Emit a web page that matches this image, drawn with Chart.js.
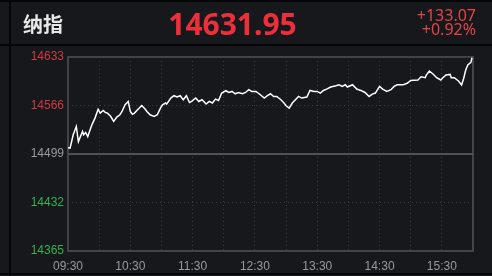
<!DOCTYPE html>
<html>
<head>
<meta charset="utf-8">
<script src="https://cdn.jsdelivr.net/npm/chart.js@4"></script>
<style>
  html, body { margin: 0; padding: 0; background: #16181c; }
  #wrap { position: relative; width: 492px; height: 276px; overflow: hidden; background: #16181c; }
  #chart { position: absolute; left: 0; top: 0; }
  .line { position: absolute; background: #050607; }
  .txt { position: absolute; white-space: nowrap; }
  #name { left: 23px; top: 12px; font: bold 20px "Noto Sans CJK SC", sans-serif; line-height: 24px; color: #e8e8e8; }
  #last { left: 160px; width: 145px; text-align: center; top: 8px; font: bold 30px "Noto Sans", sans-serif; line-height: 32px; color: #ee2f3b; }
  #chg { right: 16px; top: 8px; text-align: right; font: 16px "Noto Sans", sans-serif; line-height: 14px; color: #e2444a; }
</style>
</head>
<body>
<div id="wrap">
  <canvas id="chart" width="492" height="276"></canvas>
  <div class="line" style="left:0;top:0;width:492px;height:2px"></div>
  <div class="line" style="left:9px;top:0;width:2px;height:276px"></div>
  <div class="line" style="left:0;top:44px;width:492px;height:2px"></div>
  <div class="line" style="left:0;top:273px;width:492px;height:2px"></div>
  <div class="txt" id="name">纳指</div>
  <div class="txt" id="last">14631.95</div>
  <div class="txt" id="chg">+133.07<br>+0.92%</div>
</div>
<script>
// --- Data ---
const timeLabels = ['09:30', '10:30', '11:30', '12:30', '13:30', '14:30', '15:30']
const yTicks = [14365, 14432, 14499, 14566, 14633]
const prevClose = 14498.88

// minutes after 09:30
const minutes = [
  0, 2, 5, 8, 10, 14, 15, 17, 19, 23, 26, 29, 31, 34, 36, 38, 41, 44, 47, 50,
  52, 55, 58, 60, 62, 64, 67, 71, 74, 76, 79, 83, 86, 89, 91, 94, 95, 99, 102, 105,
  108, 111, 114, 117, 119, 123, 126, 129, 131, 133, 136, 139, 142, 145, 148, 152, 155, 158, 161, 164,
  168, 171, 174, 177, 181, 184, 189, 192, 195, 198, 201, 205, 208, 210, 213, 216, 219, 222, 225, 230,
  233, 237, 240, 243, 246, 249, 253, 255, 258, 261, 264, 267, 269, 274, 278, 282, 286, 290, 293, 296,
  300, 303, 307, 311, 314, 317, 320, 323, 327, 330, 333, 337, 340, 344, 345, 348, 352, 355, 359, 361,
  364, 368, 369, 372, 376, 379, 381, 383, 385, 388, 389
]
const prices = [
  14507.5, 14507.1, 14525.5, 14537.0, 14516.2, 14530.1, 14525.5, 14528.7, 14523.1, 14539.3,
  14548.6, 14560.8, 14555.5, 14559.1, 14556.3, 14555.5, 14551.1, 14543.9, 14550.0, 14553.2,
  14557.7, 14567.0, 14571.6, 14557.7, 14553.9, 14555.5, 14560.1, 14566.0, 14561.5, 14557.7,
  14553.2, 14550.8, 14553.2, 14562.4, 14567.0, 14569.4, 14568.0, 14576.3, 14579.5, 14577.7,
  14579.5, 14573.9, 14579.5, 14570.2, 14571.6, 14576.3, 14571.6, 14573.9, 14571.2, 14568.0,
  14571.6, 14569.4, 14574.9, 14573.0, 14583.2, 14586.4, 14584.0, 14585.4, 14582.2, 14584.0,
  14582.2, 14584.0, 14587.8, 14585.4, 14585.4, 14582.2, 14576.3, 14579.5, 14582.2, 14578.5,
  14578.5, 14573.9, 14569.4, 14565.6, 14562.4, 14569.4, 14573.9, 14578.5, 14576.3, 14577.7,
  14586.8, 14585.4, 14585.4, 14583.2, 14586.8, 14588.7, 14591.5, 14592.3, 14593.3, 14594.7,
  14592.3, 14594.7, 14591.5, 14594.7, 14588.7, 14586.8, 14584.0, 14578.5, 14581.8, 14583.2,
  14592.3, 14588.7, 14585.4, 14587.8, 14592.3, 14594.7, 14594.7, 14594.7, 14597.0, 14600.6,
  14600.9, 14601.2, 14605.7, 14604.4, 14608.1, 14613.6, 14608.9, 14604.4, 14601.2, 14604.4,
  14608.1, 14608.9, 14604.4, 14604.4, 14599.8, 14594.3, 14603.4, 14615.0, 14621.9, 14625.5,
  14631.95
]

// --- Colours ---
const upColor = '#cf3a40'
const downColor = '#35b150'
const flatColor = '#9a9a9a'
const gridColor = '#3a3d43'

// frame round the plot area
const framePlugin = {
  id: 'frame',
  beforeDatasetsDraw(chart) {
    const { ctx, chartArea: a } = chart
    ctx.save()
    ctx.strokeStyle = '#404348'
    ctx.lineWidth = 2
    ctx.strokeRect(a.left, a.top, a.right - a.left, a.bottom - a.top)
    ctx.restore()
  },
}

Chart.defaults.font.family = '"Liberation Sans", Arial, sans-serif'
Chart.defaults.font.size = 12

new Chart(document.getElementById('chart'), {
  type: 'line',
  data: {
    datasets: [
      {
        data: minutes.map((m, i) => ({ x: m, y: prices[i] })),
        borderColor: '#ffffff',
        borderWidth: 1.5,
        pointRadius: 0,
        tension: 0,
        order: 0,
      },
      {
        data: [{ x: 0, y: prevClose }, { x: 390, y: prevClose }],
        borderColor: '#4f5257',
        borderWidth: 2,
        pointRadius: 0,
        order: 1,
      },
    ],
  },
  options: {
    responsive: false,
    animation: false,
    devicePixelRatio: 1,
    layout: { padding: { left: 10, right: 19, top: 57, bottom: 0 } },
    plugins: { legend: { display: false }, tooltip: { enabled: false } },
    scales: {
      x: {
        type: 'linear',
        min: 0,
        max: 390,
        afterFit: (scale) => { scale.height = 25 },
        ticks: {
          stepSize: 30,
          autoSkip: false,
          maxRotation: 0,
          padding: 8,
          color: flatColor,
          callback: (v) => (v % 60 === 0 ? timeLabels[v / 60] : ''),
        },
        grid: {
          drawTicks: false,
          color: (c) => (c.tick && (c.tick.value === 0 || c.tick.value === 390) ? 'transparent' : gridColor),
        },
        border: { display: false, dash: [1, 3] },
      },
      y: {
        min: 14365,
        max: 14633,
        afterBuildTicks: (scale) => { scale.ticks = yTicks.map((v) => ({ value: v })) },
        afterFit: (scale) => { scale.width = 58 },
        ticks: {
          padding: 4,
          color: (c) => (c.tick.value > prevClose + 1 ? upColor : c.tick.value < prevClose - 1 ? downColor : flatColor),
          callback: (v) => String(v),
        },
        grid: {
          drawTicks: false,
          color: (c) => (c.tick && (c.tick.value === yTicks[0] || c.tick.value === yTicks[yTicks.length - 1]) ? 'transparent' : gridColor),
        },
        border: { display: false, dash: [1, 3] },
      },
    },
  },
  plugins: [framePlugin],
})
</script>
</body>
</html>
